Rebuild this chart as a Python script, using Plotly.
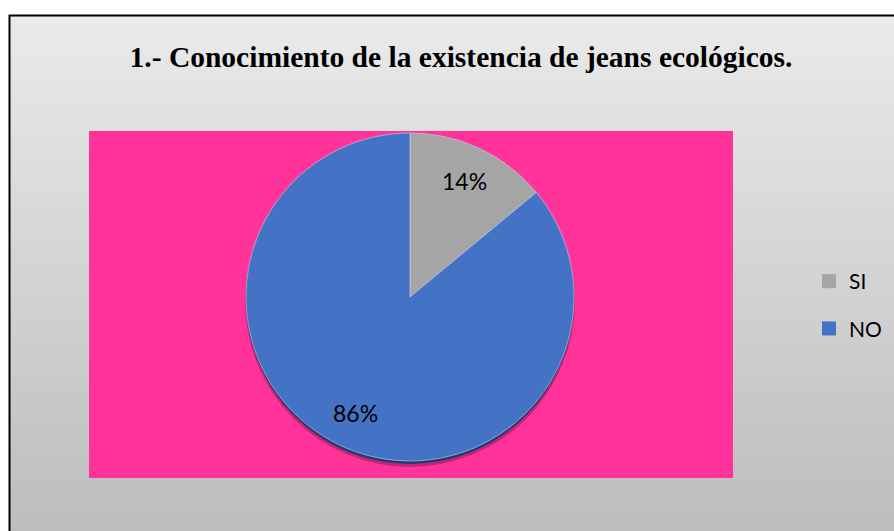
import math
import plotly.graph_objects as go

W, H = 894, 531

title_text = "1.- Conocimiento de la existencia de jeans ecológicos."
categories = ["SI", "NO"]
values = [14, 86]
colors = ["#a5a5a5", "#4472c4"]

# pie geometry (pixels)
CX, CY, R = 410, 297, 164

fig = go.Figure()

fig.add_trace(go.Pie(
    labels=categories, values=values, sort=False, direction="clockwise", rotation=0,
    marker=dict(colors=colors, line=dict(color="rgba(200,210,235,0.6)", width=1)),
    textinfo="none",
    domain=dict(x=[(CX - R) / W, (CX + R) / W], y=[1 - (CY + R) / H, 1 - (CY - R) / H]),
    showlegend=False, hoverinfo="label+percent",
))

# percentage labels placed at slice mid-angles
annotations = []
total = sum(values)
cum = 0
for v in values:
    mid = (cum + v / 2) / total * 2 * math.pi
    cum += v
    r = 0.78 * R
    px = CX + r * math.sin(mid)
    py = CY - r * math.cos(mid)
    annotations.append(dict(
        x=px / W, y=1 - py / H, xref="paper", yref="paper", showarrow=False,
        text=f"{round(v / total * 100)}%",
        font=dict(family="Lato", size=23, color="black"),
        xanchor="center", yanchor="middle"))

# legend proxies
for c, col in zip(categories, colors):
    fig.add_trace(go.Scatter(
        x=[None], y=[None], mode="markers", name=c, legendgroup=c,
        marker=dict(symbol="square", size=14, color=col),
    ))

shapes = []
n = 60
top, bot = 15, H
for i in range(n):
    y0 = top + (bot - top) * i / n
    y1 = top + (bot - top) * (i + 1) / n + 0.5
    t = i / (n - 1)
    g = round(234 - (234 - 189) * t)
    shapes.append(dict(type="rect", xref="paper", yref="paper", layer="below",
                       x0=9 / W, x1=1.0, y0=1 - y1 / H, y1=1 - y0 / H,
                       fillcolor=f"rgb({g},{g},{g})", line=dict(width=0)))
shapes.append(dict(type="rect", xref="paper", yref="paper", layer="below",
                   x0=9.5 / W, x1=1.05, y0=-0.05, y1=1 - 15.5 / H,
                   fillcolor="rgba(0,0,0,0)", line=dict(color="black", width=2)))
shapes.append(dict(type="rect", xref="paper", yref="paper", layer="below",
                   x0=89 / W, x1=733 / W, y0=1 - 478 / H, y1=1 - 131 / H,
                   fillcolor="#ff3399", line=dict(width=0)))
# soft shadow + rim under pie
shapes.append(dict(type="circle", xref="paper", yref="paper", layer="below",
                   x0=(CX - R - 1) / W, x1=(CX + R + 1) / W,
                   y0=1 - (CY + R + 6) / H, y1=1 - (CY - R + 2) / H,
                   fillcolor="rgba(120,20,80,0.45)", line=dict(width=0)))
shapes.append(dict(type="circle", xref="paper", yref="paper", layer="below",
                   x0=(CX - R) / W, x1=(CX + R) / W,
                   y0=1 - (CY + R + 3) / H, y1=1 - (CY - R + 1) / H,
                   fillcolor="#1f3a6e", line=dict(width=0)))

fig.update_layout(
    width=W, height=H,
    margin=dict(l=0, r=0, t=0, b=0),
    paper_bgcolor="white", plot_bgcolor="rgba(0,0,0,0)",
    shapes=shapes, annotations=annotations,
    xaxis=dict(visible=False), yaxis=dict(visible=False),
    title=dict(text=f"<b>{title_text}</b>", x=461 / W, xanchor="center",
               y=1 - 57 / H, yanchor="middle", yref="paper",
               font=dict(family="Liberation Serif", size=29.5, color="black")),
    legend=dict(x=809 / W, y=1 - 261 / H, xanchor="left", yanchor="top",
                font=dict(family="Lato", size=21, color="black"),
                bgcolor="rgba(0,0,0,0)", tracegroupgap=17, itemclick=False),
)

fig.write_html("out.html")
